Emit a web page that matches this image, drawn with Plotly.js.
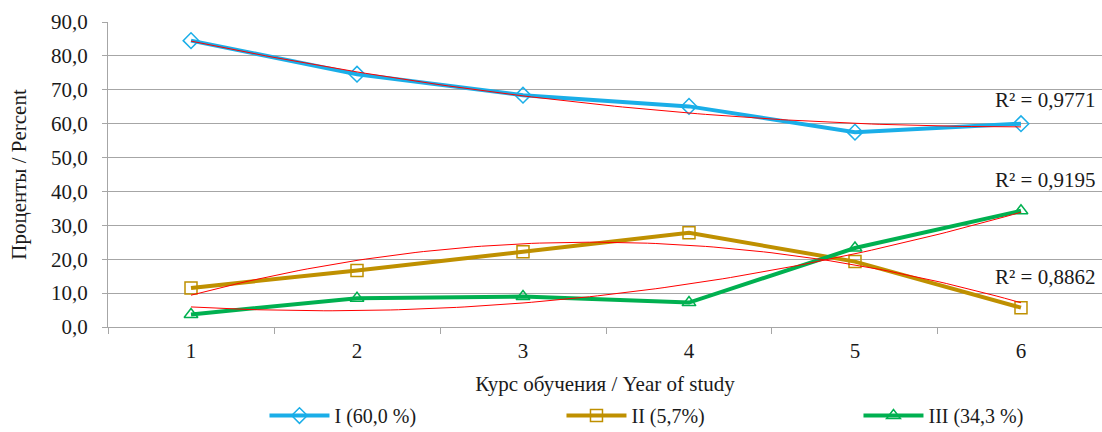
<!DOCTYPE html>
<html>
<head>
<meta charset="utf-8">
<script src="https://cdn.plot.ly/plotly-3.0.1.min.js"></script>
<style>html,body{margin:0;padding:0;background:#fff;}#chart{width:1102px;height:432px;}</style>
</head>
<body>
<div id="chart"></div>
<script>
// Data
const years = [1, 2, 3, 4, 5, 6];
const yearLabels = ["1", "2", "3", "4", "5", "6"];
const seriesNames = ["I (60,0 %)", "II (5,7%)", "III (34,3 %)"];
const seriesI = [84.5, 74.6, 68.4, 65.1, 57.5, 60.0];
const seriesII = [11.5, 16.7, 22.2, 27.8, 19.3, 5.7];
const seriesIII = [3.7, 8.5, 9.0, 7.2, 23.3, 34.3];
const r2Labels = ["R² = 0,9771", "R² = 0,9195", "R² = 0,8862"];
const r2LabelY = [67.0, 43.4, 14.7];
const yTicks = [0, 10, 20, 30, 40, 50, 60, 70, 80, 90];

const colors = ["#1AAEE8", "#BF9000", "#00B050"];
const symbols = ["diamond-open", "square-open", "triangle-up-open"];
const fontFam = "'Liberation Serif', 'DejaVu Serif', serif";

// Least-squares quadratic (Excel polynomial trendline, order 2)
function quadFit(xs, ys) {
  let S = [0,0,0,0,0], T = [0,0,0];
  for (let i = 0; i < xs.length; i++) {
    const x = xs[i], y = ys[i];
    for (let k = 0; k < 5; k++) S[k] += Math.pow(x, k);
    for (let k = 0; k < 3; k++) T[k] += y * Math.pow(x, k);
  }
  const A = [[S[0],S[1],S[2],T[0]],[S[1],S[2],S[3],T[1]],[S[2],S[3],S[4],T[2]]];
  for (let c = 0; c < 3; c++) {
    for (let r = c + 1; r < 3; r++) {
      const f = A[r][c] / A[c][c];
      for (let k = c; k < 4; k++) A[r][k] -= f * A[c][k];
    }
  }
  const b = [0,0,0];
  for (let r = 2; r >= 0; r--) {
    let s = A[r][3];
    for (let k = r + 1; k < 3; k++) s -= A[r][k] * b[k];
    b[r] = s / A[r][r];
  }
  return b;
}
function trend(xs, ys) {
  const b = quadFit(xs, ys);
  const tx = [], ty = [];
  const x0 = xs[0], x1 = xs[xs.length - 1];
  const n = 100;
  for (let i = 0; i <= n; i++) {
    const x = x0 + (x1 - x0) * i / n;
    tx.push(x); ty.push(b[0] + b[1] * x + b[2] * x * x);
  }
  return {x: tx, y: ty};
}

const allSeries = [seriesI, seriesII, seriesIII];
const traces = [];
allSeries.forEach((s, i) => {
  traces.push({
    x: years, y: s, name: seriesNames[i], type: 'scatter', mode: 'lines+markers',
    line: {color: colors[i], width: 4},
    marker: {symbol: symbols[i], size: 12, color: colors[i], line: {width: 1.5, color: colors[i]}}
  });
});
allSeries.forEach((s, i) => {
  const t = trend(years, s);
  traces.push({
    x: t.x, y: t.y, type: 'scatter', mode: 'lines', showlegend: false, hoverinfo: 'skip',
    line: {color: '#FF0000', width: 1}
  });
});

const annotations = r2Labels.map((t, i) => ({
  text: t, xref: 'paper', x: 0.995, xanchor: 'right', yref: 'y', y: r2LabelY[i], yanchor: 'middle',
  showarrow: false, font: {family: fontFam, size: 21, color: '#1a1a1a'}
}));

const layout = {
  width: 1102, height: 432,
  margin: {l: 108, r: 0, t: 22, b: 105},
  paper_bgcolor: '#fff', plot_bgcolor: '#fff',
  separators: ', ',
  font: {family: fontFam, size: 20, color: '#1a1a1a'},
  showlegend: true,
  legend: {
    orientation: 'h', xref: 'container', yref: 'container', x: 0.24, y: 0.038,
    xanchor: 'left', yanchor: 'middle', entrywidth: 222, entrywidthmode: 'pixels',
    font: {family: fontFam, size: 20, color: '#1a1a1a'}, itemwidth: 60
  },
  xaxis: {
    range: [0.5, 6.488], tickvals: years, ticktext: yearLabels, ticks: '',
    showgrid: false, zeroline: false, showline: true, linecolor: '#A6A6A6', linewidth: 1,
    ticklabelstandoff: 5,
    minor: {tick0: 0.5, dtick: 1, ticks: 'outside', ticklen: 6, tickcolor: '#A6A6A6', showgrid: false},
    tickfont: {family: fontFam, size: 21, color: '#1a1a1a'},
    title: {text: 'Курс обучения / Year of study', font: {family: fontFam, size: 21, color: '#1a1a1a'}, standoff: 15}
  },
  yaxis: {
    range: [0, 90], tickvals: yTicks, tickformat: '.1f', ticks: 'outside', ticklen: 5,
    tickcolor: '#A6A6A6', showgrid: true, gridcolor: '#A6A6A6', gridwidth: 1,
    zeroline: false, showline: true, linecolor: '#A6A6A6', linewidth: 1,
    ticklabelstandoff: 10,
    tickfont: {family: fontFam, size: 21, color: '#1a1a1a'},
    title: {text: 'Проценты / Percent', font: {family: fontFam, size: 21, color: '#1a1a1a'}, standoff: 18}
  },
  annotations: annotations
};

Plotly.newPlot('chart', traces, layout, {displayModeBar: false, staticPlot: true});
</script>
</body>
</html>
